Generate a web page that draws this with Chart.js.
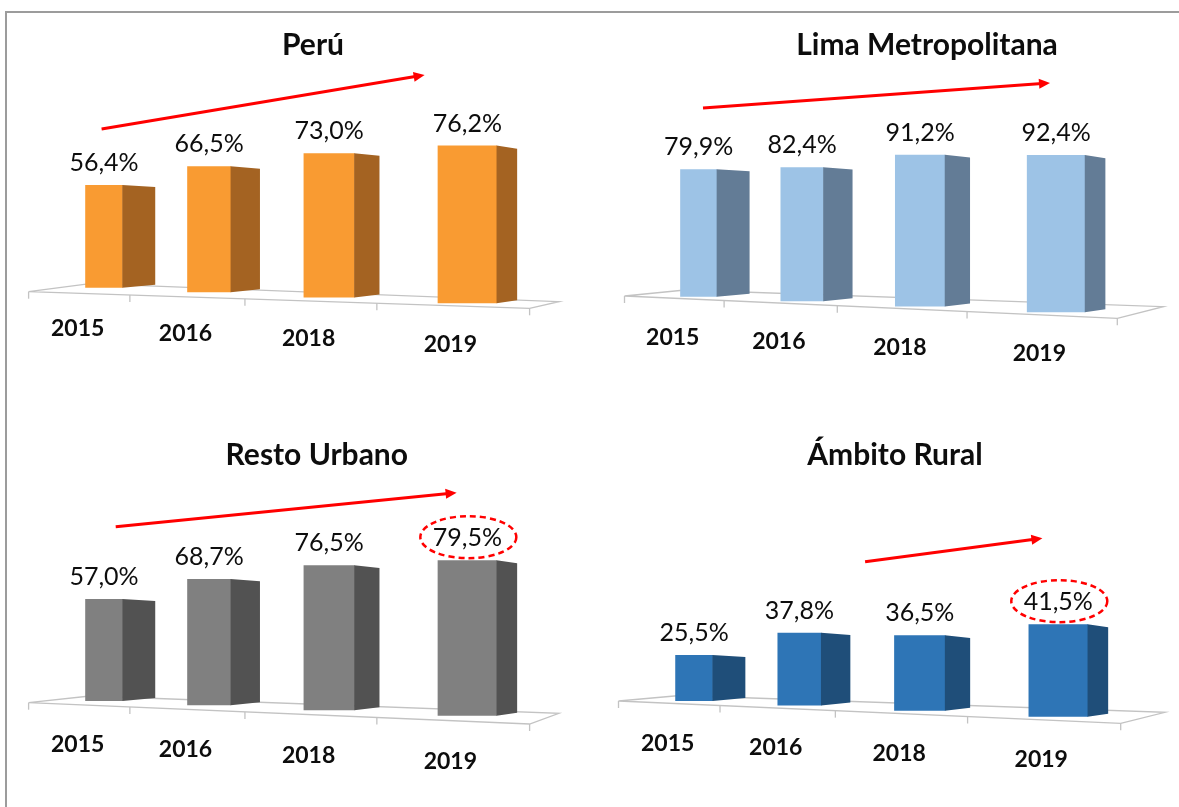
<!DOCTYPE html>
<html>
<head>
<meta charset="utf-8">
<script src="https://cdn.jsdelivr.net/npm/chart.js@4.4.1/dist/chart.umd.min.js"></script>
<style>
  html, body { margin: 0; padding: 0; background: #fff; }
  body { width: 1179px; height: 807px; position: relative; overflow: hidden; }
  #marco { position: absolute; left: 5px; top: 11px; width: 1300px; height: 900px;
           border-left: 2px solid #9c9c9c; border-top: 2px solid #9c9c9c; }
  canvas { position: absolute; }
</style>
</head>
<body>
<div id="marco"></div>
<canvas id="g1" width="582" height="386" style="left:8px;top:14px"></canvas>
<canvas id="g2" width="587" height="386" style="left:592px;top:14px"></canvas>
<canvas id="g3" width="582" height="407" style="left:8px;top:400px"></canvas>
<canvas id="g4" width="587" height="407" style="left:592px;top:400px"></canvas>
<script>
const anios = ["2015", "2016", "2018", "2019"];
const peru = [56.4, 66.5, 73.0, 76.2];
const limaMetropolitana = [79.9, 82.4, 91.2, 92.4];
const restoUrbano = [57.0, 68.7, 76.5, 79.5];
const ambitoRural = [25.5, 37.8, 36.5, 41.5];

// geometria de cada panel (coordenadas de pagina)
const paneles = [
  { id: "g1", titulo: "Perú", datos: peru, frente: "#f99b32", lado: "#a46322",
    x: 8, y: 14, w: 582, h: 386,
    L: 28.6, R: 529.6, F0: 291.7, F1: 308.3, bl: [61.4, -8.1], br: [29.3, -6.6],
    a: 1.769, p: 0.195, bOff: -7.2, bSlope: 21.5, anioOff: [35, 39.5],
    tit: [313, 45], flecha: [101.6, 129, 424.6, 75], elipse: false },
  { id: "g2", titulo: "Lima Metropolitana", datos: limaMetropolitana, frente: "#9dc3e6", lado: "#637c96",
    x: 592, y: 14, w: 587, h: 386,
    L: 624.5, R: 1117.3, F0: 296, F1: 318.3, bl: [60.5, -6], br: [46, -11.6],
    a: 1.572, p: 0.095, bOff: -2.5, bSlope: 21.5, anioOff: [39, 39],
    tit: [927, 45], flecha: [703, 108, 1050, 83], elipse: false },
  { id: "g3", titulo: "Resto Urbano", datos: restoUrbano, frente: "#808080", lado: "#525252",
    x: 8, y: 400, w: 582, h: 407,
    L: 28.6, R: 529.6, F0: 702.7, F1: 724, bl: [61.4, -6.7], br: [29.3, -10.7],
    a: 1.754, p: 0.132, bOff: -4.75, bSlope: 20.3, anioOff: [39.5, 41.5],
    tit: [316.8, 455], flecha: [115.7, 526.7, 456.6, 492.7], elipse: true },
  { id: "g4", titulo: "Ámbito Rural", datos: ambitoRural, frente: "#2e75b6", lado: "#1f4e79",
    x: 592, y: 400, w: 587, h: 407,
    L: 618.5, R: 1120.7, F0: 701, F1: 723.3, bl: [61.5, -5.5], br: [44.3, -11],
    a: 1.711, p: 0.347, bOff: -3.25, bSlope: 21.7, anioOff: [40, 39.5],
    tit: [895, 455], flecha: [865.1, 561.7, 1042.4, 538.3], elipse: true }
];

const g = 0.24;
const persp = t => t * (1 - g) / (1 - g * t);
const fmt = v => v.toFixed(1).replace(".", ",") + "%";

function crearPlugin(pn) {
  const F0 = pn.F0 - pn.y, F1 = pn.F1 - pn.y;
  return {
    id: "barras3d",
    afterDatasetsUpdate(chart) {
      const area = chart.chartArea;
      const FW = area.right - area.left;
      const y0 = chart.scales.y.getPixelForValue(0);
      chart.getDatasetMeta(0).data.forEach(bar => {
        const ts = persp((bar.x - area.left) / FW);
        const tf = ts + 0.055 - 0.025 * ts;
        const alto = (y0 - bar.y) * (1 + pn.p * tf);
        bar.x = area.left + FW * tf;
        bar.width = FW * (0.066 + 0.06 * tf);
        bar.base = F0 + pn.bOff + pn.bSlope * tf;
        bar.y = bar.base - alto;
        bar.$tf = tf;
      });
    },
    beforeDatasetsDraw(chart) {
      const ctx = chart.ctx, area = chart.chartArea;
      const L = area.left, R = area.right;
      ctx.save();
      ctx.strokeStyle = "#c3c3c3";
      ctx.lineWidth = 1.3;
      ctx.beginPath();
      ctx.moveTo(L, F0);
      ctx.lineTo(R, F1);
      ctx.lineTo(R + pn.br[0], F1 + pn.br[1]);
      ctx.lineTo(L + pn.bl[0], F0 + pn.bl[1]);
      ctx.closePath();
      ctx.stroke();
      for (let k = 0; k <= 4; k++) {
        const xt = L + (R - L) * persp(k / 4);
        const yt = F0 + (F1 - F0) * (xt - L) / (R - L);
        ctx.beginPath();
        ctx.moveTo(xt, yt);
        ctx.lineTo(xt, yt + 7);
        ctx.stroke();
      }
      ctx.restore();
    },
    afterDatasetsDraw(chart) {
      const ctx = chart.ctx;
      ctx.save();
      ctx.fillStyle = pn.lado;
      chart.getDatasetMeta(0).data.forEach(bar => {
        const tf = bar.$tf;
        const xr = bar.x + bar.width / 2;
        const prof = 35 - 17 * tf;
        ctx.beginPath();
        ctx.moveTo(xr - 0.5, bar.y);
        ctx.lineTo(xr + prof, bar.y + 1.7 + 1.7 * tf);
        ctx.lineTo(xr + prof, bar.base - 3);
        ctx.lineTo(xr - 0.5, bar.base);
        ctx.closePath();
        ctx.fill();
      });
      ctx.restore();
    },
    afterDraw(chart) {
      const ctx = chart.ctx, area = chart.chartArea;
      const L = area.left, FW = area.right - area.left;
      const bars = chart.getDatasetMeta(0).data;
      ctx.save();
      ctx.fillStyle = "#0d0d0d";
      ctx.textAlign = "center";
      ctx.textBaseline = "middle";
      // etiquetas de valor
      ctx.font = "25px Lato";
      bars.forEach((bar, i) => {
        ctx.fillText(fmt(pn.datos[i]), bar.x, bar.y - 22);
      });
      // años
      ctx.font = "bold 23px Lato";
      anios.forEach((a, i) => {
        const ts = persp((i + 0.5) / 4);
        const xa = L + FW * ts;
        const ya = F0 + (F1 - F0) * ts + pn.anioOff[0] + (pn.anioOff[1] - pn.anioOff[0]) * ts;
        ctx.fillText(a, xa, ya);
      });
      // titulo
      ctx.font = "bold 30px Lato";
      ctx.fillText(pn.titulo, pn.tit[0] - pn.x, pn.tit[1] - pn.y);
      // flecha
      const [x1, y1, x2, y2] = [pn.flecha[0] - pn.x, pn.flecha[1] - pn.y, pn.flecha[2] - pn.x, pn.flecha[3] - pn.y];
      const ang = Math.atan2(y2 - y1, x2 - x1);
      ctx.strokeStyle = "#ff0000";
      ctx.fillStyle = "#ff0000";
      ctx.lineWidth = 3;
      ctx.beginPath();
      ctx.moveTo(x1, y1);
      ctx.lineTo(x2 - 8 * Math.cos(ang), y2 - 8 * Math.sin(ang));
      ctx.stroke();
      ctx.beginPath();
      ctx.moveTo(x2, y2);
      ctx.lineTo(x2 - 11 * Math.cos(ang) + 5 * Math.sin(ang), y2 - 11 * Math.sin(ang) - 5 * Math.cos(ang));
      ctx.lineTo(x2 - 11 * Math.cos(ang) - 5 * Math.sin(ang), y2 - 11 * Math.sin(ang) + 5 * Math.cos(ang));
      ctx.closePath();
      ctx.fill();
      // elipse punteada sobre el ultimo valor
      if (pn.elipse) {
        const ult = bars[bars.length - 1];
        ctx.lineWidth = 2.5;
        ctx.setLineDash([6, 4]);
        ctx.beginPath();
        ctx.ellipse(ult.x + 1, ult.y - 23, 48, 21, 0, 0, Math.PI * 2);
        ctx.stroke();
      }
      ctx.restore();
    }
  };
}

paneles.forEach(pn => {
  new Chart(document.getElementById(pn.id), {
    type: "bar",
    data: {
      labels: anios,
      datasets: [{ data: pn.datos, backgroundColor: pn.frente, clip: false,
                   barPercentage: 0.4, categoryPercentage: 1 }]
    },
    options: {
      responsive: false,
      animation: false,
      events: [],
      layout: {
        padding: {
          left: pn.L - pn.x,
          right: pn.x + pn.w - pn.R,
          top: pn.F0 - 100 * pn.a - pn.y,
          bottom: pn.y + pn.h - pn.F0
        }
      },
      scales: {
        x: { display: false },
        y: { display: false, min: 0, max: 100 }
      },
      plugins: { legend: { display: false }, tooltip: { enabled: false } }
    },
    plugins: [crearPlugin(pn)]
  });
});
</script>
</body>
</html>
